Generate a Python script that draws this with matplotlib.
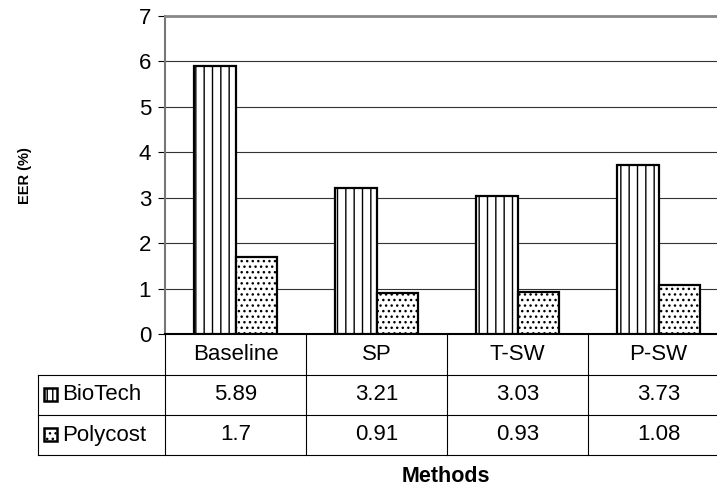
import matplotlib.pyplot as plt
from matplotlib.lines import Line2D
from matplotlib.patches import Rectangle
from matplotlib.transforms import blended_transform_factory
import numpy as np

plt.rcParams['font.family'] = ['Liberation Sans', 'DejaVu Sans']
plt.rcParams['hatch.linewidth'] = 1.0

methods = ['Baseline', 'SP', 'T-SW', 'P-SW']
biotech = [5.89, 3.21, 3.03, 3.73]
polycost = [1.7, 0.91, 0.93, 1.08]
series_names = ['BioTech', 'Polycost']
hatches = ['||', '...']

W, H = 717, 488
fig = plt.figure(figsize=(W / 100, H / 100), dpi=100)

def fx(px):
    return px / W

def fy(py):
    return 1 - py / H

# axes extends a bit past the right edge like the original export
ax = fig.add_axes([fx(165), fy(334), fx(564), (334 - 16) / H])

x = np.arange(len(methods))
bw = 0.295
ax.bar(x - bw / 2, biotech, bw, color='white', edgecolor='black', linewidth=1.6,
       hatch=hatches[0], zorder=3)
ax.bar(x + bw / 2, polycost, bw, color='white', edgecolor='black', linewidth=1.6,
       hatch=hatches[1], zorder=3)

ax.set_xlim(-0.5, len(methods) - 0.5)
ax.set_ylim(0, 7)
ax.set_yticks(range(8))
ax.set_xticks([])
ax.yaxis.grid(True, color='#333333', linewidth=0.8)
ax.set_axisbelow(True)
ax.tick_params(axis='y', labelsize=16, length=5, width=0.8, pad=5, color='black')

ax.spines['right'].set_visible(False)
ax.spines['top'].set_color('#888888')
ax.spines['top'].set_linewidth(2)
ax.spines['left'].set_color('#777777')
ax.spines['left'].set_linewidth(1.5)
ax.spines['bottom'].set_color('black')
ax.spines['bottom'].set_linewidth(1.5)

# data table under the chart
tr = blended_transform_factory(ax.transData, fig.transFigure)
row_bot = 455

for b in np.arange(len(methods)) - 0.5:
    fig.add_artist(Line2D([b, b], [fy(334), fy(row_bot)], transform=tr,
                          color='black', linewidth=0.8))
for yy in [375, 415, 455]:
    fig.add_artist(Line2D([fx(38), 1], [fy(yy), fy(yy)], transform=fig.transFigure,
                          color='black', linewidth=0.8))
fig.add_artist(Line2D([fx(38), fx(38)], [fy(375), fy(455)], transform=fig.transFigure,
                      color='black', linewidth=0.8))

for i, m in enumerate(methods):
    fig.text(i, fy(355), m, transform=tr, ha='center', va='center', fontsize=16)
    fig.text(i, fy(395), f'{biotech[i]:g}', transform=tr, ha='center', va='center', fontsize=16)
    fig.text(i, fy(435), f'{polycost[i]:g}', transform=tr, ha='center', va='center', fontsize=16)

icon_hatches = ['|||', '...']
for k, (name, hh) in enumerate(zip(series_names, icon_hatches)):
    cy = 395 + 40 * k
    fig.add_artist(Rectangle((fx(44), fy(cy + 6)), fx(13), 13 / H, transform=fig.transFigure,
                             facecolor='white', edgecolor='black', linewidth=1.8, hatch=hh))
    fig.text(fx(62), fy(cy), name, ha='left', va='center', fontsize=16)

fig.text(fx(446), fy(477), 'Methods', ha='center', va='center', fontsize=15.5, fontweight='bold')
fig.text(fx(25), fy(176), 'EER (%)', ha='center', va='center', rotation=90,
         fontsize=10.5, fontweight='bold')

fig.savefig('out.png', dpi=100)
